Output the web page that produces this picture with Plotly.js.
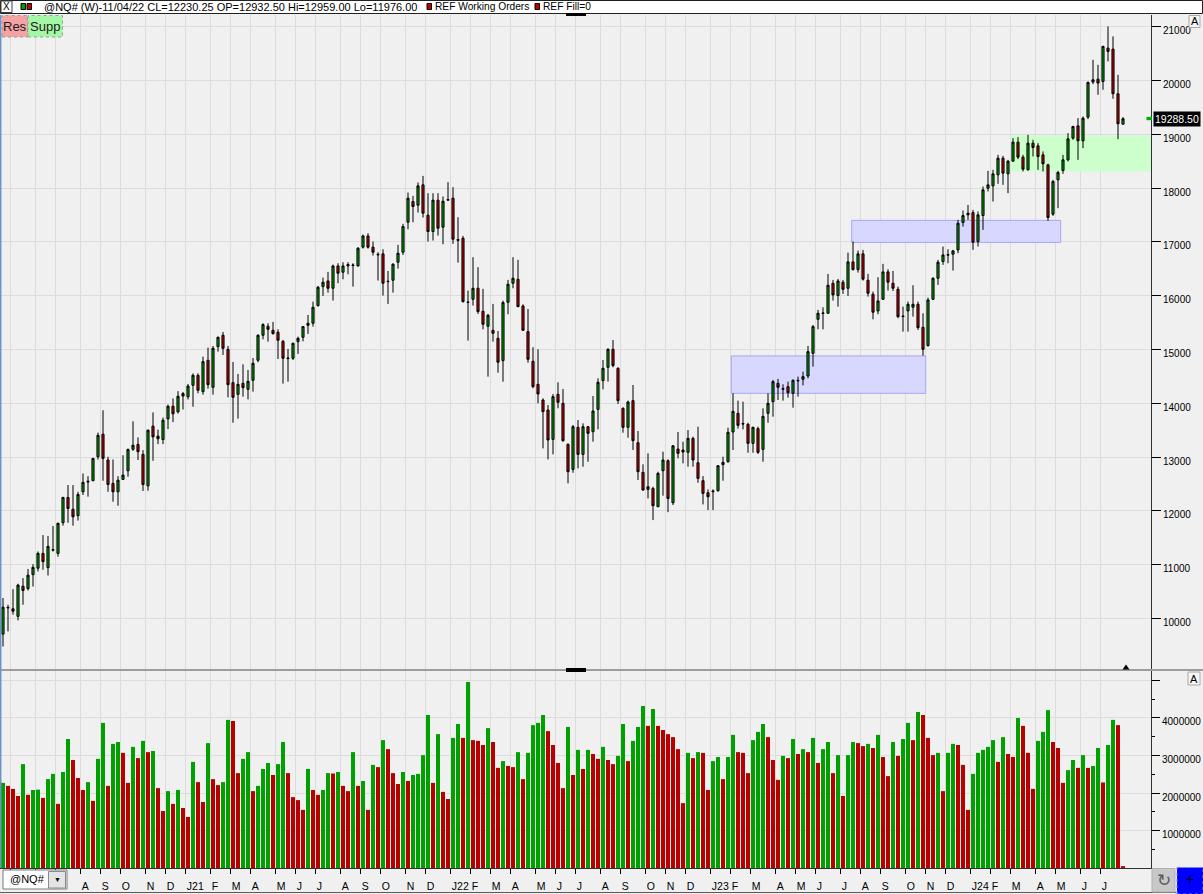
<!DOCTYPE html>
<html>
<head>
<meta charset="utf-8">
<script src="https://cdn.plot.ly/plotly-3.0.1.min.js"></script>
<style>
html,body{margin:0;padding:0;background:#f0f0f0;overflow:hidden;}
#chart{width:1203px;height:894px;}
</style>
</head>
<body>
<div id="chart"></div>
<script>
// ---------------- data ----------------
const symbol = '@NQ#';
const barPeriod = 'W';
const firstWeekEnding = '2020-04-17';
const cursorDate = '2022-11-04';

const open = [
9710,10195,10180,10040,10600,10555,10815,10935,11210,10945,
11270,11210,11780,12250,12030,11910,12355,12535,12560,13005,
13425,12945,12510,12355,12585,12745,13145,13235,13050,12465,
13575,13390,13325,13710,13945,13840,14180,14120,14335,14520,
14216,14799,14297,15053,15264,15003,14383,14166,14371,14259,
14427,14799,15264,15431,15357,15320,15152,14830,14836,15146,
15227,15450,15487,15816,16169,16274,16138,16553,16436,16553,
16560,16553,16901,17111,16901,16770,16777,16270,16287,16622,
16808,17366,17750,17682,18060,17496,17192,17775,17273,17775,
17812,17045,17068,15875,15933,16138,15710,15431,15357,15208,
14793,15877,16231,16305,15809,15332,14780,14352,14061,13875,
13329,14167,13999,13236,12771,13553,13050,13565,13472,13887,
14421,14669,15003,14650,13906,13553,14049,13267,12716,12399,
12418,12077,12747,12932.5,12151,13150,13131,13088,13348,12895,
12561,12337,12355,12375,12858,12914,13466,13813,13625,13608,
13255,13528,13143,13813,14030,14371,14260,14309,14185,14415,
14445,14507,14929,15561,15668,15673,16231,16002,16250,16138,
16628,16485,16777,16287,16026,15716,15933,16442,16231,16119,
15622,15716,15785,15840,15413,15072,15933,16324,16634,16753,
16770,16851,17359,17502,17545,17006,17490,17998,18041,18246,
18556,18265,18500,18854,18575,18339,18835,18785,18618,18432,
17515,18153,18327,18525,18928,19157,18878,19319,19970,20025,
19982,20602,20583,19753,19188];

const high = [
10380,10255,10545,10645,10750,10920,11010,11245,11550,11535,
11720,11780,12260,12480,12480,12355,12695,12645,12985,13455,
13870,13005,12955,12645,13035,13160,13665,13365,13130,13510,
13830,13510,13735,13975,14090,14225,14210,14360,14555,14557,
14867,15034,15065,15239,15326,15065,14768,14545,14724,14619,
14842,15282,15487,15487,15512,15375,15177,15010,15127,15239,
15437,15642,15890,16181,16336,16442,16578,16603,16622,16622,
16603,16901,17136,17161,17006,16808,16863,16460,16603,16944,
17335,17917,17855,18103,18227,17905,17905,17905,17843,18110,
18017,17459,17111,16095,16715,16529,16126,15661,15847,15344,
15909,16293,16715,16665,15840,15754,15041,15003,14092,13968,
14173,14390,14266,13255,13596,13689,13627,13577,14135,14464,
14805,15022,15177,14669,13925,14049,14340,13484,12865,13069,
12449,12728,13100,12959,13224,13466,13286,13503,13379,13565,
12647,12399,12399,12852,13007,13546,14185,14049,14030,13639,
13565,13565,13906,14185,14433,14452,14352,14402,14445,14495,
14588,15065,15456,15735,15785,16405,16293,16312,16293,16801,
17006,16839,16851,16405,16076,16343,16591,16491,16460,16169,
15797,15890,16194,15890,15673,15964,16343,16665,16913,16863,
16851,17409,17583,17688,17595,17564,18029,18320,18339,18618,
18600,18525,18928,18947,18618,18990,18897,18835,18680,18451,
18153,18320,18618,19021,19157,19300,19331,19982,20385,20292,
20645,21005,20819,20106,19320];

const low = [
9480,9760,10070,9965,10255,10520,10595,10875,10905,10800,
11245,11150,11725,11780,11725,11820,12295,12265,12555,12955,
12560,12355,12170,12095,12585,12635,13115,12945,12370,12375,
12930,13240,13240,13520,13650,13810,13885,14070,13935,14185,
14160,14272,14160,14960,14898,14111,13639,13714,14123,14073,
14216,14762,15189,15146,15276,14824,14365,14402,14805,14917,
15152,15289,15425,15797,15995,16057,15909,16231,16305,16398,
16169,16541,16876,16876,16746,16281,16002,15847,16057,16504,
16758,17235,17366,17545,17452,17006,17025,17118,16956,17769,
16963,16615,15871,15165,15816,15661,15375,14495,15146,14569,
14402,15654,16138,15785,15344,14755,14278,13999,13162,12957,
13050,13906,13286,12511,12709,12790,12821,12914,13286,13515,
14259,14402,14669,13987,13453,13360,13131,12573,12375,12232,
11829,12077,12282,11976,12108,12976,12883,12821,12821,12523,
12120,12015,12015,12356,12561,12895,13131,13528,13515,13081,
13081,13057,12914,13639,13751,14061,14049,14104,13918,14123,
14334,14464,14681,15375,15375,15673,15909,15797,16033,15995,
16467,16429,16281,15983,15561,15654,15921,16095,16088,15580,
15332,15332,15611,15363,14885,15053,15921,16200,16572,16603,
16467,16789,17285,17409,16851,16913,17223,17936,17750,18079,
18060,17905,18494,18537,18308,18327,18587,18339,18308,17391,
17483,17626,18265,18494,18897,18525,18742,19281,19932,19734,
19827,20354,19660,18909,19188];

const close = [
10210,10205,10135,10620,10520,10805,10950,11210,11055,11340,
11280,11770,12250,12045,11890,12305,12530,12550,12975,13405,
12975,12490,12355,12570,12665,13140,13220,13100,12490,13500,
13375,13340,13685,13945,13805,14130,14135,14320,14520,14241,
14774,14346,15022,15227,15022,14346,14111,14352,14290,14408,
14743,15264,15462,15375,15295,15171,14836,14840,15115,15208,
15425,15487,15785,16157,16250,16138,16553,16417,16553,16578,
16570,16882,17111,16901,16808,16760,16231,16262,16585,16789,
17285,17812,17657,18041,17533,17192,17775,17254,17756,17785,
17049,17030,15890,15880,16138,15704,15468,15636,15301,14762,
15871,16212,16324,15797,15357,14817,14309,14173,13844,13317,
14123,14018,13305,12728,13565,13050,13565,13441,13856,14390,
14650,15003,14700,14049,13553,14024,13305,12728,12387,12449,
12096,12697,12945,12230.25,13209,13069,13094,13348,12945,12604,
12325,12263,12368,12840,12902,13460,13850,13590,13615,13255,
13553,13088,13757,14000,14402,14297,14272,14197,14427,14425,
14495,14960,15425,15673,15678,16194,16014,16274,16119,16628,
16485,16777,16306,16045,15692,15902,16442,16250,16138,15611,
15612,15840,15840,15406,15003,15921,16324,16622,16758,16763,
16832,17347,17490,17533,16994,17502,17967,18060,18265,18556,
18277,18500,18854,18575,18351,18835,18754,18587,18451,17453,
18122,18290,18525,18915,19145,18878,19300,19963,20013,19951,
20633,20540,19753,19195,19288.5];

const volume = [
2270000,2190000,2110000,1920000,2770000,1950000,2080000,2090000,1870000,2370000,
2510000,1710000,2560000,3440000,2880000,2400000,2080000,2290000,1790000,2910000,
3870000,2190000,3310000,3360000,3070000,2270000,3230000,2930000,3390000,3090000,
3120000,2130000,1520000,2050000,1710000,2080000,1600000,1360000,2830000,2290000,
1760000,3330000,2370000,2210000,2290000,3950000,3920000,2530000,2910000,3090000,
2050000,2190000,2640000,2800000,2480000,2770000,3360000,2530000,1890000,1810000,
1550000,2640000,2080000,1950000,2080000,2530000,2520000,2560000,2190000,2050000,
3090000,2190000,2320000,1550000,2750000,2690000,3410000,3170000,2530000,2240000,
2560000,2320000,2480000,2510000,3010000,4080000,2270000,3570000,2030000,1840000,
3470000,3840000,3470000,4960000,3410000,3390000,3280000,3730000,3360000,2670000,
2850000,2720000,2690000,3090000,2370000,3070000,3810000,3870000,4080000,3650000,
3280000,2800000,2130000,3760000,2480000,3150000,2640000,3150000,3040000,2910000,
3230000,2880000,2770000,2990000,3840000,2850000,3390000,3760000,4320000,3790000,
4240000,3790000,3680000,3570000,3490000,3170000,1730000,3070000,2930000,3090000,
3070000,2080000,2850000,2960000,2370000,2960000,3550000,3090000,3070000,2530000,
3410000,3630000,3840000,3490000,2880000,2350000,2990000,2930000,3440000,3040000,
3170000,3090000,3470000,2800000,3170000,3360000,2530000,3010000,1920000,3010000,
3360000,3330000,3250000,3310000,3200000,3550000,2960000,2450000,3360000,2990000,
3440000,3870000,3410000,4160000,4080000,3470000,3010000,3070000,2050000,3070000,
3310000,3280000,2750000,1550000,2510000,3070000,3150000,3230000,3410000,2830000,
3490000,3040000,2960000,4000000,3790000,3070000,2110000,3390000,3630000,4210000,
3360000,3200000,2270000,2610000,2880000,2670000,3010000,2670000,2720000,3200000,
2280000,3280000,3950000,3810000,50000];

// first weekly bar of each month (tick anchors)
const monthStarts = [
'2020-05-01','2020-06-05','2020-07-03','2020-08-07','2020-09-04','2020-10-02','2020-11-06','2020-12-04',
'2021-01-01','2021-02-05','2021-03-05','2021-04-02','2021-05-07','2021-06-04','2021-07-02','2021-08-06',
'2021-09-03','2021-10-01','2021-11-05','2021-12-03',
'2022-01-07','2022-02-04','2022-03-04','2022-04-01','2022-05-06','2022-06-03','2022-07-01','2022-08-05',
'2022-09-02','2022-10-07','2022-11-04','2022-12-02',
'2023-01-06','2023-02-03','2023-03-03','2023-04-07','2023-05-05','2023-06-02','2023-07-07','2023-08-04',
'2023-09-01','2023-10-06','2023-11-03','2023-12-01',
'2024-01-05','2024-02-02','2024-03-01','2024-04-05','2024-05-03','2024-06-07','2024-07-05'];
const monthLetters = ['J','F','M','A','M','J','J','A','S','O','N','D'];

const priceTicks = [10000,11000,12000,13000,14000,15000,16000,17000,18000,19000,20000,21000];
const volumeTicks = [1000000,2000000,3000000,4000000,5000000];
const volumeTickLabels = ['1000000','2000000','3000000','4000000',''];

// support / resistance zones
const zoneStart = ['2023-01-31 14:00','2023-07-19 05:00','2024-02-28 05:00'];
const zoneEnd   = ['2023-10-30 19:00','2024-05-06 19:00','2024-09-12 00:00'];
const zoneLow   = [14185,16990,18308];
const zoneHigh  = [14880,17400,18978];
const zoneKind  = ['band','band','supp'];

// ---------------- geometry helpers ----------------
const W = 1203, H = 894;
const M = {l:0, r:52, t:15, b:26};
const PW = W - M.l - M.r, PH = H - M.t - M.b;
const fx = x => (x - M.l) / PW;
const fy = y => (H - M.b - y) / PH;
const xRange = ['2020-04-12 19:12', '2024-09-10 04:48'];
const COMBO_RIGHT = 68;   // pixel edge of the symbol combo box at bottom-left

const DAY = 86400000;
const dates = close.map((_, i) =>
  new Date(Date.parse(firstWeekEnding) + i * 7 * DAY).toISOString().slice(0, 10));

const tickVals = monthStarts.map(d => new Date(Date.parse(d) - 3 * DAY).toISOString().slice(0, 10));
const r0 = Date.parse(xRange[0].replace(' ', 'T') + 'Z'), r1 = Date.parse(xRange[1].replace(' ', 'T') + 'Z');
const tickText = monthStarts.map((d, k) => {
  const pxPos = (Date.parse(tickVals[k]) - r0) / (r1 - r0) * PW;
  if (pxPos < COMBO_RIGHT) return '';          // hidden under the combo box
  const m = +d.slice(5, 7) - 1;
  return m === 0 ? 'J' + d.slice(2, 4) : monthLetters[m];
});

const GREEN = '#009c00', RED = '#c20000';
const VGREEN = '#00a000', VRED = '#b80000';
const volColors = volume.map((v, i) => (i > 0 && v < volume[i - 1]) ? VRED : VGREEN);

const ci = dates.indexOf(cursorDate);
const cd = dates[ci];
const headerText = `${symbol} (${barPeriod})-${cd.slice(5,7)}/${cd.slice(8,10)}/${cd.slice(2,4)} ` +
  `CL=${close[ci].toFixed(2)} OP=${open[ci].toFixed(2)} Hi=${high[ci].toFixed(2)} Lo=${low[ci].toFixed(2)}`;

const AX_FONT = 'Liberation Sans Narrow, Liberation Sans, Arial, sans-serif';
const UI_FONT = 'Liberation Sans, Arial, sans-serif';

// ---------------- traces ----------------
const candles = {
  type: 'candlestick', x: dates, open: open, high: high, low: low, close: close,
  xaxis: 'x', yaxis: 'y',
  increasing: {line: {color: '#000', width: 1}, fillcolor: GREEN},
  decreasing: {line: {color: '#000', width: 1}, fillcolor: RED},
  whiskerwidth: 0, hoverinfo: 'skip', showlegend: false
};
const vols = {
  type: 'bar', x: dates, y: volume, xaxis: 'x', yaxis: 'y2',
  marker: {color: volColors, line: {width: 0}},
  hoverinfo: 'skip', showlegend: false
};

// ---------------- shapes & annotations ----------------
const shapes = [];
const ann = [];
function rectPx(x0, y0, x1, y1, fill, lineColor, lw, dash) {
  shapes.push({type: 'rect', xref: 'paper', yref: 'paper', x0: fx(x0), x1: fx(x1), y0: fy(y1), y1: fy(y0),
    fillcolor: fill, line: {color: lineColor || 'rgba(0,0,0,0)', width: lineColor ? (lw || 1) : 0, dash: dash || 'solid'},
    layer: 'above'});
}
function linePx(x0, y0, x1, y1, color, w) {
  shapes.push({type: 'line', xref: 'paper', yref: 'paper', x0: fx(x0), x1: fx(x1), y0: fy(y0), y1: fy(y1),
    line: {color: color, width: w || 1}, layer: 'above'});
}
function textPx(x, y, text, size, color, anchor, family, extra) {
  ann.push(Object.assign({xref: 'paper', yref: 'paper', x: fx(x), y: fy(y), text: text, showarrow: false,
    xanchor: anchor || 'center', yanchor: 'middle',
    font: {family: family || UI_FONT, size: size, color: color || '#000'}}, extra || {}));
}

// zones
zoneStart.forEach((x0, k) => {
  const supp = zoneKind[k] === 'supp';
  shapes.push({type: 'rect', xref: 'x', yref: 'y', x0: x0, x1: zoneEnd[k], y0: zoneLow[k], y1: zoneHigh[k],
    fillcolor: supp ? '#ccffcc' : '#d8d8ff',
    line: {color: supp ? 'rgba(0,0,0,0)' : '#a6a6f6', width: supp ? 0 : 1}, layer: 'between'});
});

// header
rectPx(0.5, 0.5, 1202.5, 13.5, '#ffffff', '#202020', 1);
rectPx(1, 1, 12, 12.5, '#ffffff', '#404040', 1);
textPx(6.5, 6.8, 'X', 10, '#000');
rectPx(21, 3.5, 25.5, 9.5, VGREEN, '#000', 1);
rectPx(27, 3.5, 31.5, 9.5, RED, '#000', 1);
textPx(42, 7, headerText, 11, '#000', 'left');
rectPx(427, 3.5, 431.5, 9.5, RED, '#000', 1);
textPx(433, 7, 'REF Working Orders', 10.2, '#000', 'left');
rectPx(535, 3.5, 539.5, 9.5, RED, '#000', 1);
textPx(541, 7, 'REF Fill=0', 10.2, '#000', 'left');
rectPx(566, 13, 586, 16, '#000', null);

// Res / Supp buttons
rectPx(2, 15.5, 27.5, 37, '#f7a2a2', '#9a9a9a', 1, 'dot');
textPx(14.8, 26.5, 'Res', 13, '#202020');
rectPx(28, 15.5, 62.5, 37, '#a4f7a4', '#9a9a9a', 1, 'dot');
textPx(45.3, 26.5, 'Supp', 13, '#202020');

// auto-scale buttons
rectPx(1189, 15.5, 1200, 27.5, '#f6f6f6', '#a8a8a8', 1);
textPx(1194.5, 21.5, 'A', 11, '#000');
rectPx(1188, 672, 1200, 685, '#f6f6f6', '#a8a8a8', 1);
textPx(1194, 678.5, 'A', 11, '#000');

// pane separator
linePx(0, 670, 1203, 670, '#484848', 1.2);
rectPx(566, 668, 586, 672, '#000', null);
shapes.push({type: 'path', xref: 'paper', yref: 'paper',
  path: `M ${fx(1122.5)},${fy(669.5)} L ${fx(1126)},${fy(664.5)} L ${fx(1129.5)},${fy(669.5)} Z`,
  fillcolor: '#000', line: {color: '#000', width: 0}, layer: 'above'});

// left border
linePx(0.7, 15, 0.7, 868, '#6c90c8', 1.5);

// last price marker
rectPx(1146.5, 116.8, 1152, 120.2, '#00b000', null);
ann.push({xref: 'paper', yref: 'y', x: fx(1153), y: close[close.length - 1],
  text: close[close.length - 1].toFixed(2), showarrow: false, xanchor: 'left', yanchor: 'middle',
  bgcolor: '#000', borderpad: 1, font: {family: UI_FONT, size: 10.5, color: '#ffffff'}});

// bottom bar
linePx(0, 892.5, 1176, 892.5, '#5a5a5a', 1);
rectPx(3, 870, 67, 889, '#ffffff', '#7a7a7a', 1);
textPx(7.5, 879.5, symbol, 11, '#000', 'left');
rectPx(48.5, 871.5, 65.5, 888, '#e4e4e4', '#8a8a8a', 1);
textPx(57, 880, '▼', 7, '#000');
rectPx(1152, 868.5, 1175, 892, '#c8c8c8', '#b0b0b0', 1);
textPx(1163.5, 880, '↻', 17, '#5a5a5a', 'center', 'DejaVu Sans');
rectPx(1177, 867.5, 1203, 894, '#0000ff', '#7f7fff', 1, 'dot');
textPx(1190, 879.5, '+', 14, '#000');

// ---------------- layout ----------------
const gridColor = '#dcdcdc';
const layout = {
  width: W, height: H,
  margin: M,
  paper_bgcolor: '#f0f0f0', plot_bgcolor: '#f0f0f0',
  showlegend: false, hovermode: false, dragmode: false,
  boxgap: 0.4, bargap: 0.2,
  font: {family: UI_FONT, size: 10, color: '#000'},
  xaxis: {
    type: 'date', range: xRange,
    anchor: 'y2', rangeslider: {visible: false},
    tickmode: 'array', tickvals: tickVals, ticktext: tickText,
    tickangle: 0,
    ticks: 'outside', ticklen: 5, tickcolor: '#000', tickwidth: 1,
    ticklabelposition: 'outside right', ticklabelstandoff: 8,
    tickfont: {family: AX_FONT, size: 10.5, color: '#000'},
    showgrid: true, gridcolor: gridColor, gridwidth: 1,
    showline: true, linecolor: '#303030', linewidth: 1,
    zeroline: false, fixedrange: true
  },
  yaxis: {
    domain: [fy(669), 1], range: [9061, 21217], side: 'right',
    tickmode: 'array', tickvals: priceTicks, ticktext: priceTicks.map(String),
    ticks: 'outside', ticklen: 9, tickcolor: '#000', tickwidth: 1,
    ticklabelshift: 4,
    tickfont: {family: AX_FONT, size: 10, color: '#000'},
    showgrid: true, gridcolor: gridColor, gridwidth: 1,
    showline: true, linecolor: '#303030', linewidth: 1,
    zeroline: false, fixedrange: true
  },
  yaxis2: {
    domain: [0, fy(671)], range: [0, 5253000], side: 'right',
    tickmode: 'array', tickvals: volumeTicks, ticktext: volumeTickLabels,
    ticks: 'outside', ticklen: 8, tickcolor: '#000', tickwidth: 1,
    ticklabelshift: 4,
    minor: {tickmode: 'linear', tick0: 0, dtick: 500000, ticks: 'outside', ticklen: 3, tickcolor: '#000', showgrid: false},
    tickfont: {family: AX_FONT, size: 10, color: '#000'},
    showgrid: true, gridcolor: gridColor, gridwidth: 1,
    showline: true, linecolor: '#303030', linewidth: 1,
    zeroline: false, fixedrange: true
  },
  shapes: shapes,
  annotations: ann
};

Plotly.newPlot('chart', [candles, vols], layout, {displayModeBar: false, staticPlot: true});
</script>
</body>
</html>
